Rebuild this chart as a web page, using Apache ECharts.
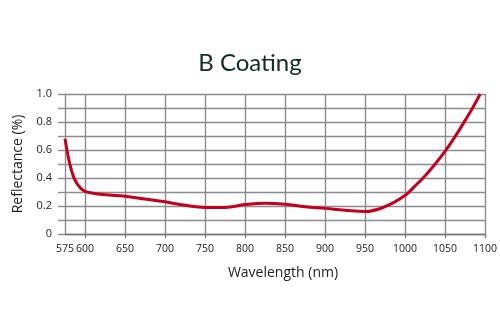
<!DOCTYPE html>
<html>
<head>
<meta charset="utf-8">
<script src="https://cdn.jsdelivr.net/npm/echarts@6/dist/echarts.min.js"></script>
<style>
  html, body { margin: 0; padding: 0; background: #fff; }
  #chart { width: 500px; height: 334px; }
</style>
</head>
<body>
<div id="chart"></div>
<script>
// Reflectance curve of the B coating
const wavelengths = [575, 581, 587, 594, 600, 612, 625, 650, 675, 700, 725, 750, 775, 800, 825, 850, 875, 900, 925, 950, 975, 1000, 1012, 1025, 1037, 1050, 1062, 1075, 1085, 1094];
const reflectance = [0.68, 0.50, 0.39, 0.33, 0.305, 0.29, 0.28, 0.27, 0.25, 0.23, 0.205, 0.19, 0.19, 0.21, 0.22, 0.213, 0.195, 0.183, 0.17, 0.16, 0.195, 0.275, 0.34, 0.415, 0.495, 0.59, 0.69, 0.81, 0.905, 1.0];
const xTickValues = [575, 600, 650, 700, 750, 800, 850, 900, 950, 1000, 1050, 1100];
const xGridValues = [600, 650, 700, 750, 800, 850, 900, 950, 1000, 1050, 1100];

const chart = echarts.init(document.getElementById('chart'), null, { renderer: 'canvas' });
const gridColor = '#8c8c8c';
const textFont = '"Open Sans", "Noto Sans", sans-serif';

chart.setOption({
  animation: false,
  title: {
    text: 'B Coating',
    left: 'center',
    top: 46,
    textStyle: { fontFamily: 'Lato, "Noto Sans", sans-serif', fontSize: 24, fontWeight: 'normal', color: '#0f2d22' }
  },
  grid: { left: 65, right: 15, top: 94, bottom: 100 },
  xAxis: {
    type: 'value',
    min: 575,
    max: 1100,
    name: 'Wavelength (nm)',
    nameLocation: 'middle',
    nameGap: 32,
    nameTextStyle: { fontFamily: textFont, fontSize: 14, color: '#222', padding: [0, 0, 0, 16] },
    axisLine: { show: true, lineStyle: { color: '#777', width: 1.3 } },
    axisTick: { show: true, customValues: xGridValues, length: 4, lineStyle: { color: '#777', width: 1.3 } },
    axisLabel: {
      customValues: xTickValues,
      margin: 10,
      fontFamily: textFont,
      fontSize: 10.5,
      color: '#222',
      formatter: function (v) { return String(v); }
    },
    splitLine: { show: true, lineStyle: { color: gridColor, width: 1.4 } }
  },
  yAxis: {
    type: 'value',
    min: 0,
    max: 1,
    interval: 0.1,
    name: 'Reflectance (%)',
    nameLocation: 'middle',
    nameGap: 40,
    nameTextStyle: { fontFamily: textFont, fontSize: 14, color: '#222' },
    axisLine: { show: true, lineStyle: { color: gridColor, width: 1.4 } },
    axisTick: { show: true, length: 7, lineStyle: { color: gridColor, width: 1.4 } },
    axisLabel: {
      margin: 13,
      fontFamily: textFont,
      fontSize: 11,
      color: '#222',
      formatter: function (v) {
        const k = Math.round(v * 10);
        if (k % 2 !== 0) return '';
        return k === 0 ? '0' : (k / 10).toFixed(1);
      }
    },
    splitLine: { show: true, lineStyle: { color: gridColor, width: 1.4 } }
  },
  series: [{
    type: 'line',
    data: wavelengths.map((w, i) => [w, reflectance[i]]),
    smooth: 0.4,
    showSymbol: false,
    lineStyle: { color: '#c4001c', width: 3 },
    z: 5
  }]
});
</script>
</body>
</html>
